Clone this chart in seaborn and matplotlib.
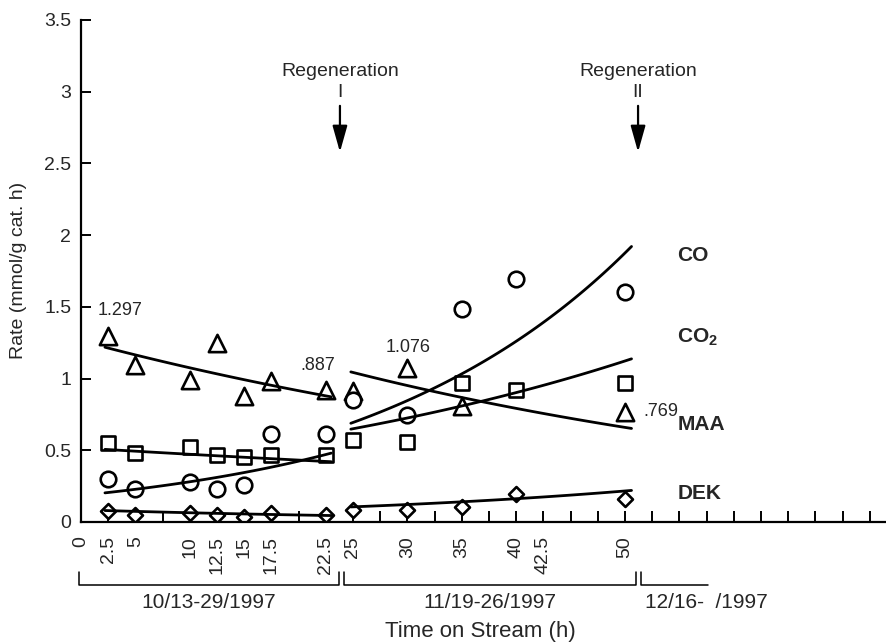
import numpy as np
import pandas as pd
import matplotlib
matplotlib.use("Agg")
import matplotlib.pyplot as plt
import matplotlib.transforms as mtransforms
import seaborn as sns

# ---------------- data ----------------
time_h = [2.5, 5, 10, 12.5, 15, 17.5, 22.5, 25, 30, 35, 40, 50]
co_rate = [0.30, 0.23, 0.28, 0.23, 0.26, 0.61, 0.61, 0.85, 0.745, 1.485, 1.695, 1.60]
co2_rate = [0.55, 0.48, 0.525, 0.47, 0.45, 0.47, 0.47, 0.57, 0.56, 0.97, 0.92, 0.97]
maa_rate = [1.297, 1.095, 0.99, 1.25, 0.88, 0.985, 0.92, 0.91, 1.076, 0.81, np.nan, 0.769]
dek_rate = [0.08, 0.047, 0.06, 0.047, 0.035, 0.06, 0.047, 0.087, 0.087, 0.105, 0.195, 0.157]

# exponential trend segments: (x_start, x_end) and (y_start, y_end) per species
seg_x = [(2.2, 23.0), (24.8, 50.6)]
trend_co = [(0.203, 0.48), (0.688, 1.92)]
trend_co2 = [(0.506, 0.42), (0.647, 1.137)]
trend_maa = [(1.218, 0.872), (1.046, 0.652)]
trend_dek = [(0.08, 0.045), (0.105, 0.22)]

value_labels = ["1.297", ".887", "1.076", ".769"]
species_labels = ["CO", "CO$_\\mathbf{2}$", "MAA", "DEK"]
xtick_shown = [0, 2.5, 5, 10, 12.5, 15, 17.5, 22.5, 25, 30, 35, 40, 42.5, 50]
period_labels = ["10/13-29/1997", "11/19-26/1997", "12/16-  /1997"]
period_spans = [(-0.2, 23.7), (24.2, 51.0), (51.5, 57.6)]
regen_x = [23.8, 51.2]
regen_roman = ["I", "II"]

# ---------------- frames ----------------
points = pd.DataFrame({
    "time": time_h * 4,
    "rate": co_rate + co2_rate + maa_rate + dek_rate,
    "species": ["CO"] * 12 + ["CO2"] * 12 + ["MAA"] * 12 + ["DEK"] * 12,
})

rows = []
for name, trend in [("CO", trend_co), ("CO2", trend_co2), ("MAA", trend_maa), ("DEK", trend_dek)]:
    for k, ((x0, x1), (y0, y1)) in enumerate(zip(seg_x, trend)):
        xs = np.linspace(x0, x1, 60)
        b = np.log(y1 / y0) / (x1 - x0)
        ys = y0 * np.exp(b * (xs - x0))
        for xv, yv in zip(xs, ys):
            rows.append({"time": xv, "rate": yv, "key": f"{name}-{k}"})
trends = pd.DataFrame(rows)

# ---------------- style ----------------
sns.set_style("ticks")
plt.rcParams["font.family"] = ["Liberation Sans", "DejaVu Sans"]
plt.rcParams["mathtext.fontset"] = "custom"
plt.rcParams["mathtext.bf"] = "Liberation Sans:bold"
plt.rcParams["mathtext.rm"] = "Liberation Sans"

fig = plt.figure(figsize=(8.86, 6.43), dpi=100)
W, H = 886, 643
x0px, y0px = 81, 522
xmax = 74
ax = fig.add_axes([x0px / W, (H - y0px) / H, xmax * 10.88 / W, 3.5 * 143.5 / H])

FS = 14

# trend lines
sns.lineplot(data=trends, x="time", y="rate", units="key", estimator=None,
             color="black", lw=2.0, sort=False, ax=ax, zorder=2, legend=False)

marker_spec = {"MAA": ("^", 155), "CO": ("o", 125), "CO2": ("s", 110), "DEK": ("D", 58)}
for name in ["MAA", "CO", "CO2", "DEK"]:
    m, s = marker_spec[name]
    sub = points[points["species"] == name].dropna()
    sns.scatterplot(data=sub, x="time", y="rate", marker=m, s=s,
                    facecolor="white", edgecolor="black", linewidth=1.9,
                    ax=ax, zorder=1.5, legend=False)

ax.set_xlim(0, xmax)
ax.set_ylim(0, 3.5)
ax.set_xlabel("")
ax.set_ylabel("")

xt = np.arange(0, 73, 2.5)
ax.set_xticks(xt)
ax.set_xticklabels([f"{v:g}" if v in xtick_shown else "" for v in xt],
                   rotation=90, fontsize=FS)
ax.set_yticks(np.arange(0, 3.51, 0.5))
ax.set_yticklabels([f"{v:g}" for v in np.arange(0, 3.51, 0.5)], fontsize=FS)
ax.tick_params(axis="x", direction="in", length=8, width=1.4, pad=10, color="black")
ax.tick_params(axis="y", direction="in", length=7, width=1.4, pad=7, color="black")
for sp in ["top", "right"]:
    ax.spines[sp].set_visible(False)
for sp in ["left", "bottom"]:
    ax.spines[sp].set_linewidth(1.6)
    ax.spines[sp].set_color("black")

# value labels
VS = 13
ax.text(1.56, 1.477, value_labels[0], fontsize=VS, ha="left", va="center")
ax.text(21.8, 1.094, value_labels[1], fontsize=VS, ha="center", va="center")
ax.text(30.05, 1.213, value_labels[2], fontsize=VS, ha="center", va="center")
ax.text(51.65, 0.767, value_labels[3], fontsize=VS, ha="left", va="center")

# species labels
for lab, yv in zip(species_labels, [1.854, 1.289, 0.676, 0.202]):
    ax.text(54.8, yv, lab, fontsize=15, fontweight="bold", ha="left", va="center")

# regeneration arrows
for xr, rn in zip(regen_x, regen_roman):
    ax.text(xr, 3.136, "Regeneration", fontsize=FS, ha="center", va="center")
    ax.text(xr, 2.99, rn, fontsize=FS, ha="center", va="center")
    ax.annotate("", xy=(xr, 2.578), xytext=(xr, 2.90),
                arrowprops=dict(arrowstyle="-|>,head_length=1.6,head_width=0.45",
                                mutation_scale=10, lw=1.6, color="black",
                                shrinkA=0, shrinkB=0))

# period brackets below axis
DS = 15
trans = mtransforms.blended_transform_factory(ax.transData, ax.transAxes)
yb, yt = -0.1255, -0.0996
for i, ((a, b), lab) in enumerate(zip(period_spans, period_labels)):
    if i < 2:
        ax.plot([a, a, b, b], [yt, yb, yb, yt], color="black", lw=1.1,
                transform=trans, clip_on=False)
        ax.text((a + b) / 2, -0.161, lab, fontsize=DS, ha="center", va="center",
                transform=trans)
    else:
        ax.plot([a, a, b], [yt, yb, yb], color="black", lw=1.1,
                transform=trans, clip_on=False)
        ax.text(a + 0.3, -0.161, lab, fontsize=DS, ha="left", va="center",
                transform=trans)

ax.text(0.496, -0.219, "Time on Stream (h)", fontsize=16, ha="center", va="center",
        transform=ax.transAxes)
ax.text(-0.078, 0.5, "Rate (mmol/g cat. h)", fontsize=FS, ha="center", va="center",
        rotation=90, transform=ax.transAxes)

fig.savefig("out.png", dpi=100)
